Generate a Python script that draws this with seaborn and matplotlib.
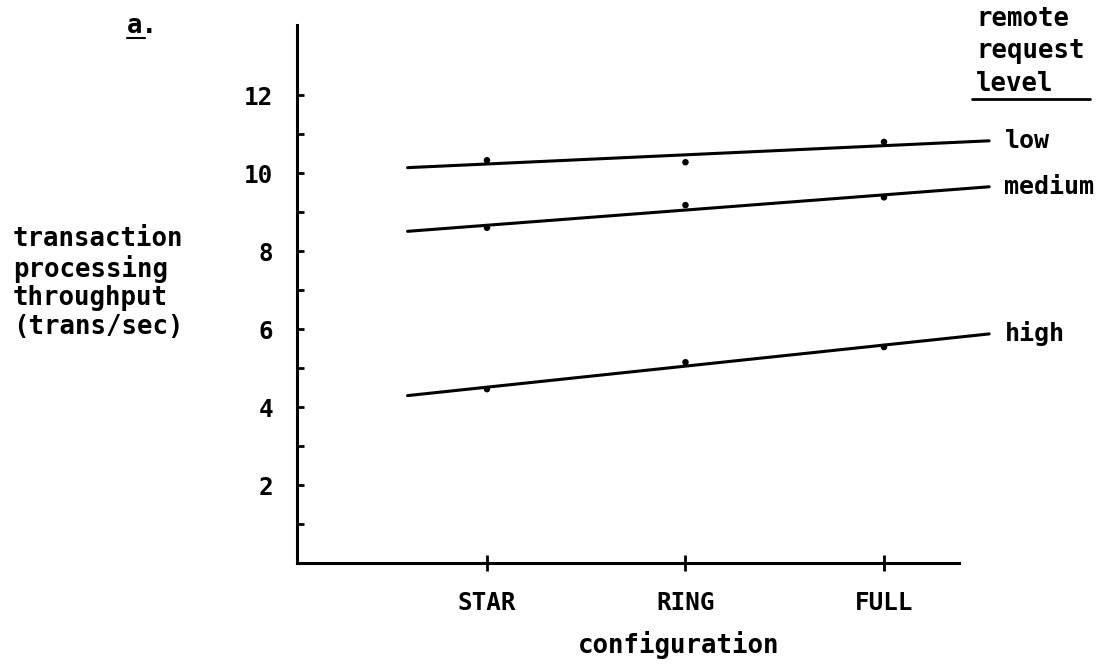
import numpy as np
import pandas as pd
import matplotlib.pyplot as plt
from matplotlib.lines import Line2D
import seaborn as sns

# values
configs = ['STAR', 'RING', 'FULL']
levels = ['low', 'medium', 'high']
low = [10.33, 10.28, 10.80]
medium = [8.60, 9.18, 9.38]
high = [4.46, 5.15, 5.54]
y_ticks = [2, 4, 6, 8, 10, 12]
y_minor = [1, 3, 5, 7, 9, 11]

sns.set_style('ticks')
plt.rcParams['font.family'] = ['DejaVu Sans Mono']
plt.rcParams['font.weight'] = 'bold'
plt.rcParams['text.color'] = 'black'

df = pd.DataFrame({
    'configuration': configs * 3,
    'pos': list(range(len(configs))) * 3,
    'level': np.repeat(levels, len(configs)),
    'throughput': low + medium + high,
})

W, H = 1114, 666
fig = plt.figure(figsize=(W / 100, H / 100), dpi=100)
ax = fig.add_axes([297 / W, 1 - 563 / H, (959 - 297) / W, (563 - 25) / H])

# measured points
sns.scatterplot(data=df, x='pos', y='throughput', color='black', s=22,
                edgecolor='none', ax=ax, legend=False, zorder=3)

# hand-fitted straight lines, one per request level
span = np.array([-0.40, 2.53])
for lvl in levels:
    sub = df[df['level'] == lvl]
    slope, icpt = np.polyfit(sub['pos'], sub['throughput'], 1)
    fit = slope * span + icpt
    sns.lineplot(x=span, y=fit, color='black', lw=2.2, ax=ax, clip_on=False)
    ax.annotate(lvl, (span[-1], fit[-1]), xytext=(11, 0), textcoords='offset points',
                va='center', ha='left', fontsize=18, annotation_clip=False)

ax.set_xlim(-0.957, 2.378)
ax.set_ylim(0, 13.8)
ax.set_xticks(range(len(configs)))
ax.set_xticklabels(configs)
ax.set_yticks(y_ticks)
ax.set_yticks(y_minor, minor=True)
ax.set_xlabel('')
ax.set_ylabel('')

for side in ['top', 'right']:
    ax.spines[side].set_visible(False)
for side in ['left', 'bottom']:
    ax.spines[side].set_linewidth(2.2)
    ax.spines[side].set_color('black')

ax.tick_params(axis='y', which='both', direction='in', left=True, length=5, width=2,
               pad=17, labelsize=17.5, colors='black')
ax.tick_params(axis='x', which='major', direction='inout', bottom=True, length=12, width=2,
               pad=14, labelsize=17.5, colors='black')

# axis titles and panel label
fig.text(13 / W, 1 - 283 / H, 'transaction\nprocessing\nthroughput\n(trans/sec)',
         ha='left', va='center', fontsize=18.5, linespacing=1.12)
fig.text(679 / W, 1 - 645 / H, 'configuration', ha='center', va='center', fontsize=18.5)
fig.text(976 / W, 1 - 6 / H, 'remote\nrequest\nlevel', ha='left', va='top',
         fontsize=18.5, linespacing=1.32)
fig.add_artist(Line2D([972 / W, 1090 / W], [1 - 99 / H, 1 - 99 / H], color='black', lw=2))
fig.text(127 / W, 1 - 33 / H, 'a.', ha='left', va='baseline', fontsize=18.5)
fig.add_artist(Line2D([127 / W, 145 / W], [1 - 38 / H, 1 - 38 / H], color='black', lw=1.5))

fig.savefig('out.png', dpi=100)
